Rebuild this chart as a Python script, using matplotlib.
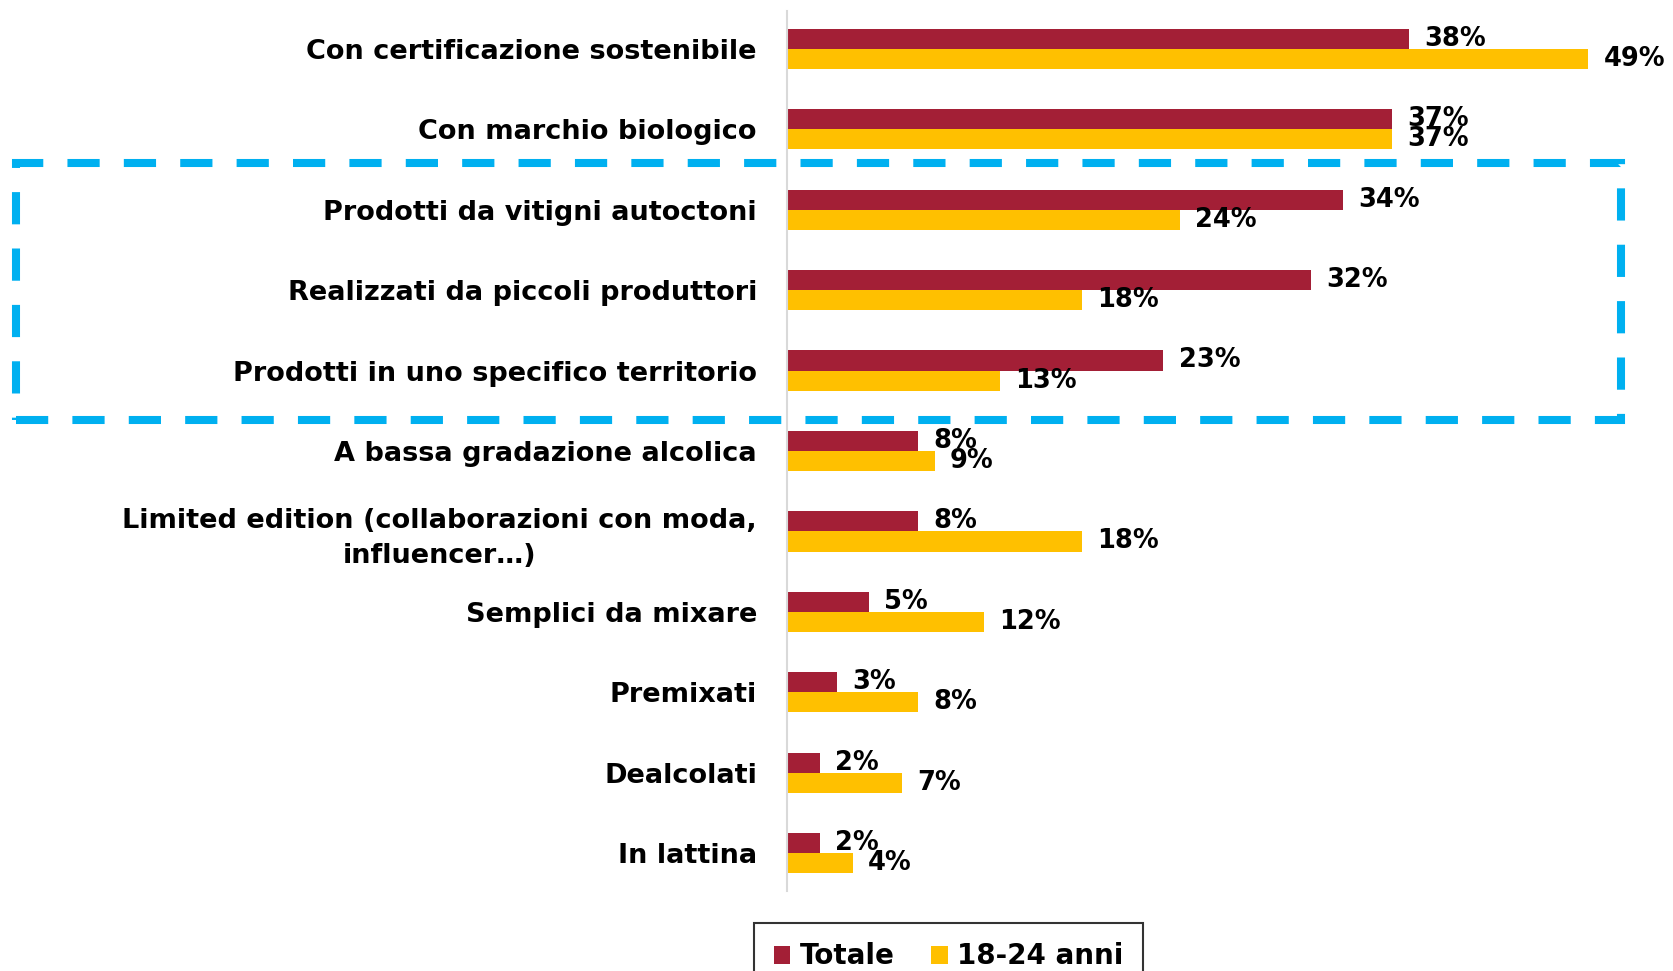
import matplotlib
matplotlib.use("Agg")
import matplotlib.pyplot as plt
import numpy as np
from matplotlib.patches import Rectangle

# Dati
categorie = [
    "Con certificazione sostenibile",
    "Con marchio biologico",
    "Prodotti da vitigni autoctoni",
    "Realizzati da piccoli produttori",
    "Prodotti in uno specifico territorio",
    "A bassa gradazione alcolica",
    "Limited edition (collaborazioni con moda,\ninfluencer…)",
    "Semplici da mixare",
    "Premixati",
    "Dealcolati",
    "In lattina",
]
totale = [38, 37, 34, 32, 23, 8, 8, 5, 3, 2, 2]
giovani = [49, 37, 24, 18, 13, 9, 18, 12, 8, 7, 4]
serie_nomi = ["Totale", "18-24 anni"]

ROSSO = "#A31F36"
GIALLO = "#FFC000"
AZZURRO = "#00B0F0"

plt.rcParams["font.family"] = ["DejaVu Sans"]
plt.rcParams["font.weight"] = "bold"

fig = plt.figure(figsize=(16.73, 9.71), dpi=100)
ax = fig.add_axes([0.4707, 0.0824, 0.4885, 0.9063])

y = np.arange(len(categorie))
h = 0.25
b1 = ax.barh(y - h / 2, totale, height=h, color=ROSSO, label=serie_nomi[0])
b2 = ax.barh(y + h / 2, giovani, height=h, color=GIALLO, label=serie_nomi[1])

# Etichette dei valori
for bars, vals in ((b1, totale), (b2, giovani)):
    for rect, v in zip(bars, vals):
        ax.annotate(f"{v}%", (rect.get_width(), rect.get_y() + rect.get_height() / 2),
                    xytext=(11, 0), textcoords="offset points",
                    ha="left", va="center", fontsize=18.5, fontweight="bold")

ax.set_xlim(0, 50)
ax.set_ylim(len(categorie) - 0.53, -0.47)
ax.set_yticks(y)
ax.set_yticklabels(categorie, fontsize=19.5, fontweight="bold",
                   multialignment="center", linespacing=1.45)
ax.tick_params(axis="y", length=0, pad=22)
ax.set_xticks([])
for s in ("top", "right", "bottom"):
    ax.spines[s].set_visible(False)
ax.spines["left"].set_color("#D9D9D9")
ax.spines["left"].set_linewidth(1.5)

# Riquadro tratteggiato attorno ai gruppi 3-5
box = Rectangle((16 / 1673, 1 - 420 / 971), (1621 - 16) / 1673, (420 - 163) / 971,
                transform=fig.transFigure, fill=False, edgecolor=AZZURRO,
                linewidth=5.8, linestyle=(0, (4, 3)), clip_on=False, zorder=5)
fig.patches.append(box)

leg = fig.legend(handles=[b1, b2], labels=serie_nomi, loc="upper center",
                 bbox_to_anchor=(0.567, 0.0494), borderaxespad=0, ncol=2,
                 frameon=True, fancybox=False,
                 prop={"weight": "bold", "size": 20},
                 handlelength=0.6, handleheight=0.6, handletextpad=0.35,
                 columnspacing=1.3, borderpad=0.7)
leg.get_frame().set_edgecolor("black")
leg.get_frame().set_linewidth(1.5)

fig.savefig("out.png", dpi=100)
